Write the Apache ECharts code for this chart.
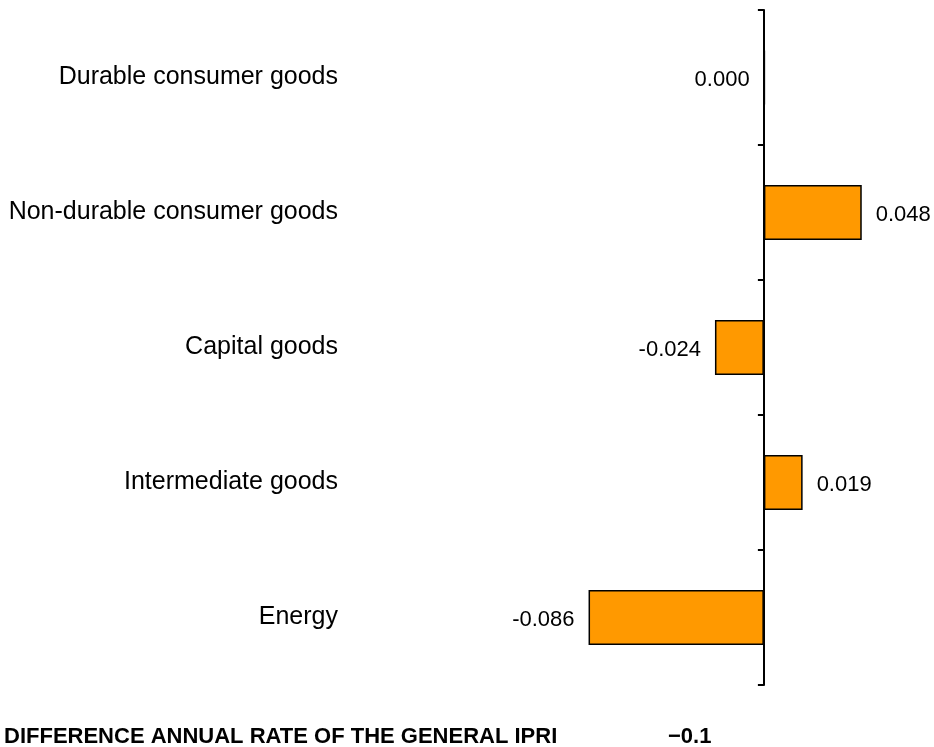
<!DOCTYPE html>
<html>
<head>
<meta charset="utf-8">
<script src="https://cdn.jsdelivr.net/npm/echarts@6/dist/echarts.min.js"></script>
<style>
  html, body { margin: 0; padding: 0; background: #ffffff; }
  #chart { width: 934px; height: 747px; }
</style>
</head>
<body>
<div id="chart"></div>
<script>
// data
var categories = ['Durable consumer goods', 'Non-durable consumer goods', 'Capital goods', 'Intermediate goods', 'Energy']
var values = [0.000, 0.048, -0.024, 0.019, -0.086]
var footerLabel = 'DIFFERENCE ANNUAL RATE OF THE GENERAL IPRI'
var footerValue = '\u22120.1'

var font = "'Liberation Sans', Arial, sans-serif"

var chart = echarts.init(document.getElementById('chart'))

var option = {
  animation: false,
  grid: {
    left: 560,
    right: 7,
    top: 10,
    bottom: 62,
    containLabel: false,
    outerBoundsMode: 'none'
  },
  xAxis: {
    type: 'value',
    min: -0.1,
    max: 0.08,
    show: false
  },
  yAxis: {
    type: 'category',
    data: categories,
    inverse: true,
    axisLine: {
      onZero: true,
      lineStyle: { color: '#000', width: 2 }
    },
    axisTick: {
      show: true,
      length: 6,
      lineStyle: { color: '#000', width: 2 }
    },
    axisLabel: {
      // labels stay at the grid's left edge, not at the zero line
      margin: 222,
      padding: [5, 0, 0, 0],
      color: '#000',
      fontSize: 25,
      fontFamily: font
    },
    splitLine: { show: false }
  },
  series: [{
    type: 'bar',
    barWidth: 55,
    barMinHeight: 1,
    data: values.map(function (v) {
      return {
        value: v,
        label: { position: v > 0 ? 'right' : 'left' }
      }
    }),
    itemStyle: {
      color: '#FF9900',
      borderColor: '#000',
      borderWidth: 1.5
    },
    label: {
      show: true,
      distance: 14,
      offset: [0, 2],
      color: '#000',
      fontSize: 22,
      fontFamily: font,
      formatter: function (p) {
        return p.value.toFixed(3)
      }
    }
  }],
  graphic: [
    {
      type: 'text',
      left: 4,
      top: 726,
      style: {
        text: footerLabel,
        fill: '#000',
        font: 'bold 22px ' + font
      }
    },
    {
      type: 'text',
      left: 668,
      top: 726,
      style: {
        text: footerValue,
        fill: '#000',
        font: 'bold 22px ' + font
      }
    }
  ]
}

chart.setOption(option)
</script>
</body>
</html>
